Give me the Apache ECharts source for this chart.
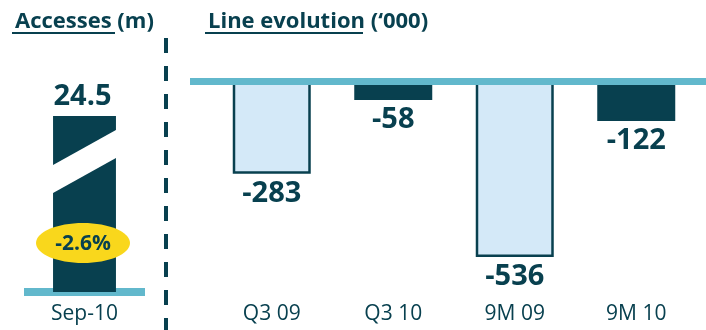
<!DOCTYPE html>
<html>
<head>
<meta charset="utf-8">
<script src="https://cdn.jsdelivr.net/npm/echarts@6/dist/echarts.min.js"></script>
<style>
html,body{margin:0;padding:0;background:#fff;}
#chart{width:706px;height:330px;}
</style>
</head>
<body>
<div id="chart"></div>
<script>
// ---- data ----
const accessCategories = ['Sep-10'];
const accessValues = [24.5];
const accessChange = ['-2.6%'];

const lineCategories = ['Q3 09', 'Q3 10', '9M 09', '9M 10'];
const lineValues = [-283, -58, -536, -122];

const titleLeft = 'Accesses (m)';
const titleRight = 'Line evolution (\u2018000)';

// ---- styles ----
const DARK = '#08404f';
const TEAL = '#62b8cc';
const LIGHT = '#d4e9f8';
const YELLOW = '#f9d71c';
const FONT = '"Open Sans", "Noto Sans", sans-serif';

const chart = echarts.init(document.getElementById('chart'), null, {renderer: 'canvas'});

const option = {
  backgroundColor: '#fff',
  animation: false,
  title: [
    {text: titleLeft, left: 10, top: 6, textStyle: {fontFamily: FONT, fontSize: 22, fontWeight: 'bold', color: DARK}},
    {text: titleRight, left: 203, top: 6, textStyle: {fontFamily: FONT, fontSize: 22, fontWeight: 'bold', color: DARK}}
  ],
  grid: [
    {left: 24, width: 121, top: 116, bottom: 38},
    {left: 211, right: 9, top: 81, bottom: 38}
  ],
  xAxis: [
    {
      type: 'category', gridIndex: 0, data: accessCategories,
      axisLine: {show: true, lineStyle: {color: TEAL, width: 8, cap: 'butt'}},
      axisTick: {show: false},
      axisLabel: {color: DARK, fontFamily: FONT, fontSize: 21, margin: 12}
    },
    {
      type: 'category', gridIndex: 1, data: lineCategories,
      axisLine: {show: false}, axisTick: {show: false},
      axisLabel: {color: DARK, fontFamily: FONT, fontSize: 21, margin: 12}
    }
  ],
  yAxis: [
    {type: 'value', gridIndex: 0, min: 0, max: 'dataMax', show: false, splitLine: {show: false}},
    {type: 'value', gridIndex: 1, min: -643, max: 0, show: false, splitLine: {show: false}}
  ],
  series: [
    {
      type: 'custom',
      xAxisIndex: 0, yAxisIndex: 0,
      data: accessValues.map((v, i) => [i, v]),
      renderItem: function (params, api) {
        const base = api.coord([api.value(0), 0]);
        const top = api.coord([api.value(0), api.value(1)]);
        const bw = api.size([1, 0])[0] * 0.52;
        const x0 = base[0] - bw / 2, x1 = base[0] + bw / 2;
        const yT = top[1], yB = base[1];
        const H = yB - 4 - yT;
        const f = t => yT + H * t;
        return {
          type: 'group',
          children: [
            {type: 'polygon', shape: {points: [[x0, yT], [x1, yT], [x1, f(0.081)], [x0, f(0.285)]]}, style: {fill: DARK}},
            {type: 'polygon', shape: {points: [[x0, f(0.448)], [x1, f(0.244)], [x1, yB], [x0, yB]]}, style: {fill: DARK}},
            {type: 'text', style: {text: String(api.value(1)), x: base[0] - 2, y: yT - 5, align: 'center', verticalAlign: 'bottom', fill: DARK, font: 'bold 29px ' + FONT}},
            {type: 'ellipse', shape: {cx: base[0] - 1.5, cy: f(0.738), rx: 47, ry: 20}, style: {fill: YELLOW}},
            {type: 'text', style: {text: accessChange[params.dataIndex], x: base[0] - 1.5, y: f(0.738) + 1, align: 'center', verticalAlign: 'middle', fill: DARK, font: 'bold 21px ' + FONT}}
          ]
        };
      }
    },
    {
      type: 'bar',
      xAxisIndex: 1, yAxisIndex: 1,
      data: lineValues,
      barWidth: 78,
      itemStyle: {
        color: p => (p.dataIndex % 2 === 0 ? LIGHT : DARK),
        borderColor: DARK,
        borderWidth: 2.5
      },
      label: {
        show: true, position: 'bottom', distance: 5,
        color: DARK, fontFamily: FONT, fontSize: 29, fontWeight: 'bold',
        formatter: '{c}'
      }
    }
  ],
  graphic: [
    {type: 'rect', z: 100, shape: {x: 190, y: 78, width: 516, height: 7}, style: {fill: TEAL}},
    {type: 'line', z: 100, shape: {x1: 166, y1: 38, x2: 166, y2: 330}, style: {stroke: DARK, lineWidth: 4, lineDash: [15, 13]}},
    {type: 'line', z: 100, shape: {x1: 12, y1: 33, x2: 115, y2: 33}, style: {stroke: DARK, lineWidth: 2}},
    {type: 'line', z: 100, shape: {x1: 205, y1: 33, x2: 363, y2: 33}, style: {stroke: DARK, lineWidth: 2}}
  ]
};
chart.setOption(option);
</script>
</body>
</html>
